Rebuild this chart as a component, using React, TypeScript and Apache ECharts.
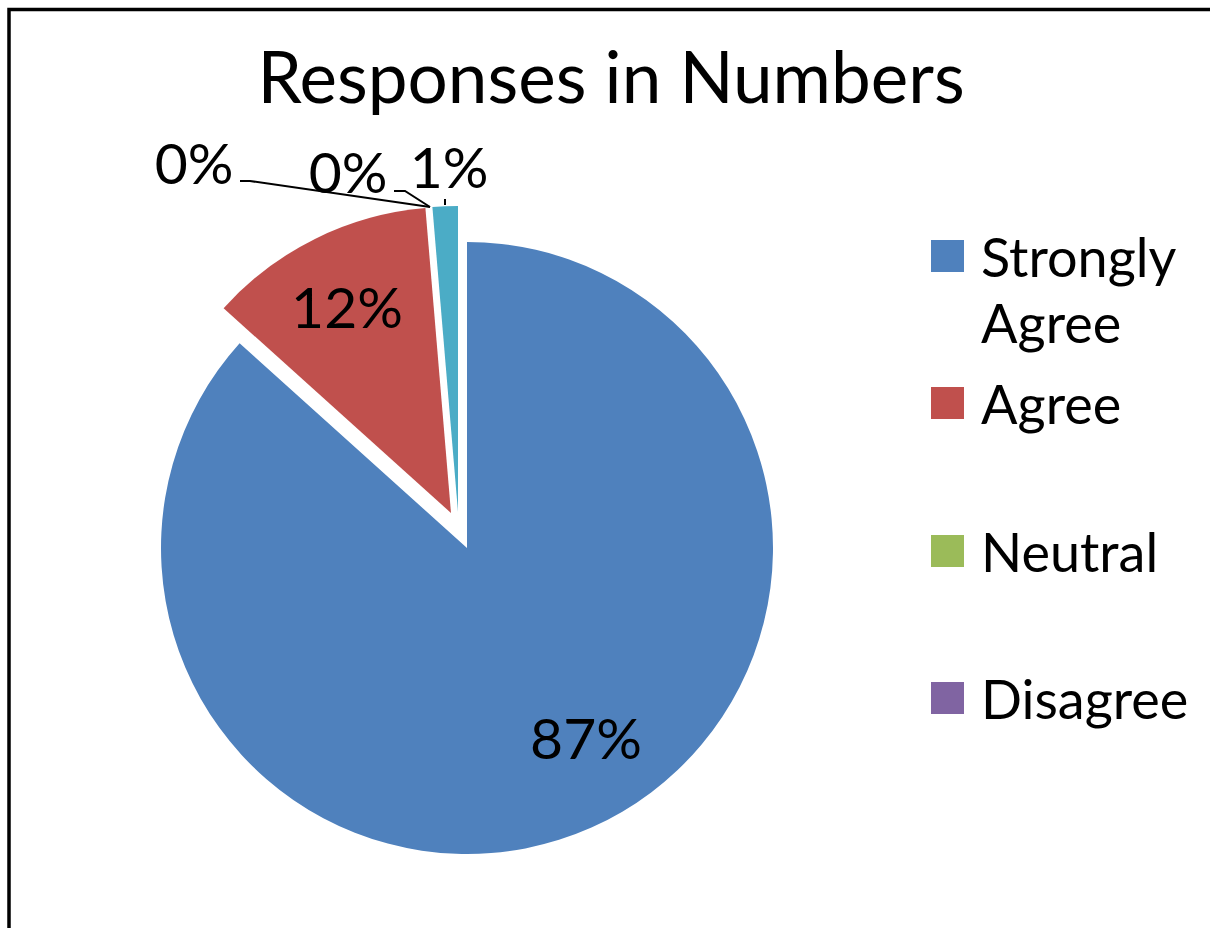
import React, { useEffect, useRef } from "react";
import * as echarts from "echarts";

const categories = ["Strongly Agree", "Agree", "Neutral", "Disagree", "Strongly Disagree"];
const responses = [130, 18, 0, 0, 2];
const sliceColors = ["#4F81BD", "#C0504D", "#9BBB59", "#8064A2", "#4BACC6"];
const legendNames = ["Strongly Agree", "Agree", "Neutral", "Disagree"];
const titleText = "Responses in Numbers";

const FONT = "Lato";

export default function App() {
  const ref = useRef<HTMLDivElement>(null);

  useEffect(() => {
    if (!ref.current) return;
    const chart = echarts.init(ref.current, undefined, { renderer: "svg" });

    const cx = 467;
    const cy = 548;
    const R = 306;

    // label anchor points (layout only)
    const labelSpots: Record<number, any> = {
      0: { x: 586, y: 737 },
      1: { x: 347, y: 306 },
      2: { x: 194, y: 162, line: [[240, 181], [250, 181], [430, 207]] },
      3: { x: 348, y: 171, line: [[394, 191], [405, 191], [430, 207]] },
      4: { x: 449, y: 166, line: [[445, 199], [445, 202], [445, 205]] },
    };

    // groups of slices drawn together, with their explode offset
    const sliceGroups = [
      { items: [0, 2, 3], dx: 0, dy: 0 },
      { items: [1], dx: -16, dy: -35 },
      { items: [4], dx: -9, dy: -36 },
    ];

    const legendTops = [157, 370, 518, 665];

    const labelLayout = (params: any) => {
      const spot = labelSpots[params.dataIndex];
      const res: any = { x: spot.x, y: spot.y, align: "center", verticalAlign: "middle" };
      if (spot.line) res.labelLinePoints = spot.line;
      return res;
    };

    const series = sliceGroups.map((g) => ({
      type: "pie",
      center: [cx + g.dx, cy + g.dy],
      radius: R,
      startAngle: 90,
      clockwise: true,
      percentPrecision: 0,
      avoidLabelOverlap: false,
      silent: true,
      emphasis: { disabled: true },
      label: {
        show: true,
        formatter: "{d}%",
        fontFamily: FONT,
        fontSize: 57,
        color: "#000",
      },
      labelLine: {
        show: true,
        lineStyle: { color: "#000", width: 2 },
      },
      labelLayout,
      data: categories.map((name, i) => {
        const visible = g.items.includes(i);
        const outside = i >= 2;
        return {
          name,
          value: responses[i],
          itemStyle: visible
            ? { color: sliceColors[i], borderWidth: 0 }
            : { color: "rgba(0,0,0,0)", borderWidth: 0, opacity: 0 },
          label: { show: visible, position: outside ? "outside" : "inside" },
          labelLine: { show: visible && outside },
        };
      }),
    }));

    const legends = legendNames.map((name, i) => ({
      data: [
        {
          name,
          itemStyle: { color: sliceColors[categories.indexOf(name)], opacity: 1, borderWidth: 0 },
        },
      ],
      orient: "vertical",
      left: 931,
      top: legendTops[i],
      padding: 0,
      itemWidth: 33,
      itemHeight: 32,
      icon: "rect",
      selectedMode: false,
      formatter: (n: string) => (n === "Strongly Agree" ? " \nStrongly\nAgree" : n),
      textStyle: {
        fontFamily: FONT,
        fontSize: 54,
        lineHeight: 66,
        color: "#000",
        padding: [0, 0, 0, 12],
      },
    }));

    chart.setOption({
      animation: false,
      backgroundColor: "#fff",
      title: {
        text: titleText,
        left: 606,
        top: 35,
        textAlign: "center",
        textStyle: { fontFamily: FONT, fontSize: 71, fontWeight: "normal", color: "#000" },
      },
      legend: legends,
      graphic: [
        {
          type: "rect",
          shape: { x: 9, y: 9.5, width: 1400, height: 1200 },
          style: { fill: "none", stroke: "#000", lineWidth: 3.5 },
          silent: true,
        },
      ],
      series,
    });

    return () => chart.dispose();
  }, []);

  return (
    <div
      ref={ref}
      style={{ position: "fixed", left: 0, top: 0, width: 1210, height: 928 }}
    />
  );
}
